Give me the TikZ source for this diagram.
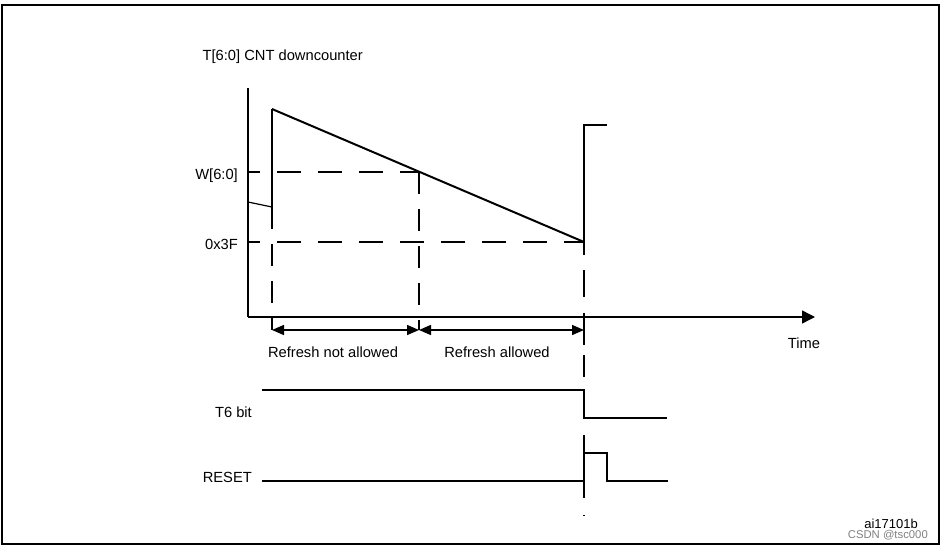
\documentclass[tikz,border=0pt]{standalone}
\usepackage{fontspec}
\setmainfont{Liberation Sans}
\usetikzlibrary{arrows.meta,positioning}

\begin{document}
\begin{tikzpicture}[
    x=1pt, y=-1pt,
    lbl/.style={font=\fontsize{14.7}{17}\selectfont, inner sep=0pt},
    axis/.style={line width=1.4pt},
    axisarrow/.style={axis, -{Triangle[length=13pt,width=13pt]}},
    guide/.style={line width=1.2pt, dash pattern=on 24pt off 17pt},
    vguide/.style={line width=1.2pt, dash pattern=on 22pt off 15pt},
    counter/.style={line width=2pt},
    signal/.style={line width=2.2pt},
    span/.style={line width=1.4pt, {Triangle[length=12pt,width=10pt]}-{Triangle[length=12pt,width=10pt]}}
]
\useasboundingbox (0,0) rectangle (943,549);
\draw[line width=1.2pt] (2,5) rectangle (939,544);

\coordinate (origin) at (248,317);
\coordinate (ytop) at (248,88);
\coordinate (xend) at (815,317);
\coordinate (start) at (248,202);
\coordinate (load) at (272,207);
\coordinate (peak) at (272,109);
\coordinate (wcross) at (419,172);
\coordinate (bottom) at (584,242);
\coordinate (reload) at (584,125);
\coordinate (reloadend) at (607,125);
\coordinate (wtick) at (248,172);
\coordinate (ftick) at (248,242);
\coordinate (loaddown) at (272,330);
\coordinate (wdown) at (419,330);
\coordinate (bottomdown) at (584,330);
\coordinate (synclow) at (584,517);

\node[lbl, anchor=base east] (title) at (363,60) {T[6:0] CNT downcounter};
\node[lbl, anchor=base east] (wlbl) at (238,179) {W[6:0]};
\node[lbl, anchor=base east] (flbl) at (238,249) {0x3F};
\node[lbl, anchor=base] (time) at (804,348) {Time};
\node[lbl, anchor=base] (notallowed) at (333,357) {Refresh not allowed};
\node[lbl, anchor=base] (allowed) at (497,357) {Refresh allowed};
\node[lbl, anchor=base east] (t6) at (252,417) {T6 bit};
\node[lbl, anchor=base east] (rst) at (252,482) {RESET};
\node[font=\fontsize{13}{15}\selectfont, inner sep=0pt, anchor=base east] (ref) at (918,528) {ai17101b};
\node[font=\fontsize{11.3}{13}\selectfont, text=gray, inner sep=0pt, anchor=base east] (mark) at (928,538) {CSDN @tsc000};

\draw[axis] (ytop) -- (origin);
\draw[axisarrow] (origin) -- (xend);

\draw[guide, dash phase=12pt] (wtick) -- (wcross);
\draw[guide, dash phase=12pt] (ftick) -- (bottom);
\draw[vguide] (load) -- (loaddown);
\draw[vguide] (wcross) -- (wdown);
\draw[line width=1.2pt, dash pattern=on 13pt off 15pt on 27pt off 16pt on 32pt off 10pt on 22pt off 58pt on 63pt off 17pt on 1pt] (bottom) -- (synclow);

\draw[line width=1.2pt] (start) -- (load);
\draw[axis] (load) -- (peak);
\draw[counter] (peak) -- (bottom);
\draw[axis] (bottom) -- (reload) -- (reloadend);

\draw[span] (loaddown) -- (wdown);
\draw[span] (wdown) -- (bottomdown);

\draw[signal] (262,390) -- (584,390) -- (584,418) -- (667,418);
\draw[signal] (262,481) -- (584,481) -- (584,453) -- (607,453) -- (607,481) -- (668,481);
\end{tikzpicture}
\end{document}
